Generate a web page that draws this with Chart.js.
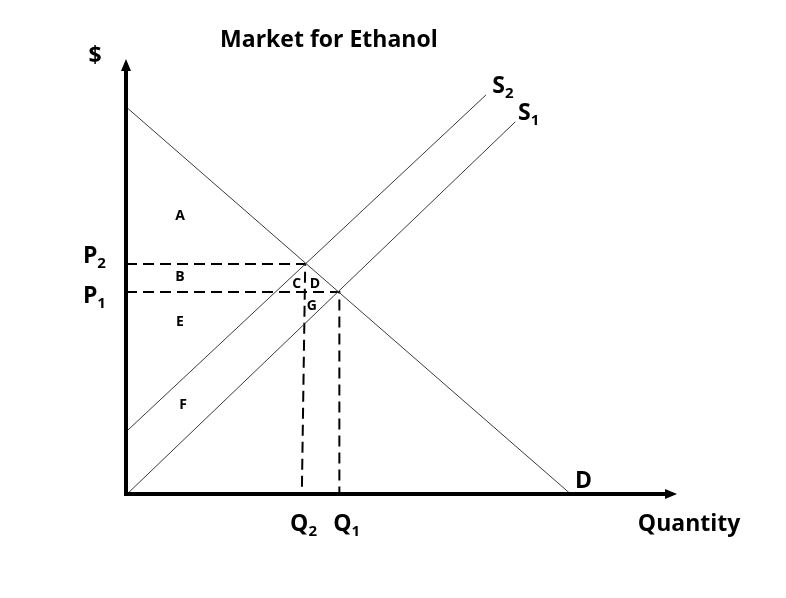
<!DOCTYPE html>
<html>
<head>
<meta charset="utf-8">
<script src="https://cdn.jsdelivr.net/npm/chart.js@4.4.1/dist/chart.umd.min.js"></script>
<style>
html,body{margin:0;padding:0;background:#fff;}
#wrap{width:786px;height:598px;position:relative;}
</style>
</head>
<body>
<div id="wrap"><canvas id="c" width="786" height="598"></canvas></div>
<script>
// ---- data (economic units: quantity 0..100, price 0..100) ----
const demandQ = [0, 79.4];
const demandP = [87.2, 0];
const supply1Q = [0.2, 69.5];
const supply1P = [0, 83.8];
const supply2Q = [0, 64.3];
const supply2P = [14.0, 89.9];
const priceLevels = {P2: 51.8, P1: 45.5};
const quantityLevels = {Q2top: 32.0, Q2: 31.4, Q1: 38.1};
const axisEnds = {q: 98.4, p: 98};
const titleText = "Market for Ethanol";
// labels: [text, subscript, x, y, kind]
const labels = [
  ["$", "", -5.5, 98.9, "bigc"],
  ["S", "2", 65.4, 92.1, "big"],
  ["S", "1", 70.0, 86.0, "big"],
  ["P", "2", -7.7, 53.8, "big"],
  ["P", "1", -7.7, 44.8, "big"],
  ["Q", "2", 29.3, -6.5, "big"],
  ["Q", "1", 37.0, -6.5, "big"],
  ["D", "", 80.2, 3.2, "big"],
  ["Quantity", "", 91.4, -6.5, "big"],
  [titleText, "", 16.8, 102.6, "big"],
  ["A", "", 9.64, 62.8, "small"],
  ["B", "", 9.64, 49.0, "small"],
  ["C", "", 30.5, 47.5, "small"],
  ["D", "", 33.75, 47.5, "small"],
  ["G", "", 33.2, 42.6, "small"],
  ["E", "", 9.64, 39.0, "small"],
  ["F", "", 10.2, 20.3, "small"]
];

const pts = (xs, ys) => xs.map((x, i) => ({x: x, y: ys[i]}));
const FONT = "'Open Sans', sans-serif";

const overlay = {
  id: 'overlay',
  afterDatasetsDraw(chart) {
    const ctx = chart.ctx;
    const xs = chart.scales.x, ys = chart.scales.y;
    const X = v => xs.getPixelForValue(v), Y = v => ys.getPixelForValue(v);
    ctx.save();
    // axes
    ctx.strokeStyle = '#000'; ctx.fillStyle = '#000';
    ctx.lineWidth = 4; ctx.lineCap = 'butt';
    const ox = X(0), oy = Y(0), ty = Y(axisEnds.p), tx = X(axisEnds.q);
    ctx.beginPath();
    ctx.moveTo(ox, oy + 2); ctx.lineTo(ox, ty + 10);
    ctx.moveTo(ox - 2, oy); ctx.lineTo(tx - 10, oy);
    ctx.stroke();
    ctx.beginPath();
    ctx.moveTo(ox, ty); ctx.lineTo(ox - 5, ty + 12); ctx.lineTo(ox + 5, ty + 12); ctx.closePath();
    ctx.moveTo(tx, oy); ctx.lineTo(tx - 12, oy - 5); ctx.lineTo(tx - 12, oy + 5); ctx.closePath();
    ctx.fill();
    // labels
    labels.forEach(([t, sub, lx, ly, kind]) => {
      const size = kind === 'small' ? 14 : 23;
      ctx.font = 'bold ' + size + 'px ' + FONT;
      ctx.textBaseline = 'alphabetic';
      const px = X(lx), py = Y(ly);
      const base = py + size * 0.714 / 2;
      if (kind === 'small' || kind === 'bigc') {
        ctx.textAlign = 'center';
        ctx.fillText(t, px, base);
      } else {
        ctx.textAlign = 'left';
        ctx.fillText(t, px, base);
        if (sub) {
          const w = ctx.measureText(t).width;
          ctx.font = 'bold 15px ' + FONT;
          ctx.fillText(sub, px + w, base + 5);
        }
      }
    });
    ctx.restore();
  }
};

const lineDs = (data, extra) => Object.assign({
  data: data, showLine: true, pointRadius: 0, borderColor: '#3a3a3a',
  borderWidth: 1, fill: false, tension: 0
}, extra || {});

new Chart(document.getElementById('c'), {
  type: 'scatter',
  data: {
    datasets: [
      lineDs(pts(demandQ, demandP)),
      lineDs(pts(supply1Q, supply1P)),
      lineDs(pts(supply2Q, supply2P)),
      lineDs([{x: 0, y: priceLevels.P2}, {x: quantityLevels.Q2top, y: priceLevels.P2}, {x: quantityLevels.Q2, y: 0}],
        {borderColor: '#000', borderWidth: 2, borderDash: [11, 6]}),
      lineDs([{x: 0, y: priceLevels.P1}, {x: quantityLevels.Q1, y: priceLevels.P1}, {x: quantityLevels.Q1, y: 0}],
        {borderColor: '#000', borderWidth: 2, borderDash: [11, 6]})
    ]
  },
  options: {
    responsive: false, animation: false,
    layout: {padding: {left: 126, right: 100, top: 50, bottom: 104}},
    plugins: {legend: {display: false}, tooltip: {enabled: false}, title: {display: false}},
    scales: {
      x: {type: 'linear', min: 0, max: 100, display: false},
      y: {type: 'linear', min: 0, max: 100, display: false}
    },
    elements: {line: {borderCapStyle: 'butt'}},
    clip: false
  },
  plugins: [overlay]
});
</script>
</body>
</html>
